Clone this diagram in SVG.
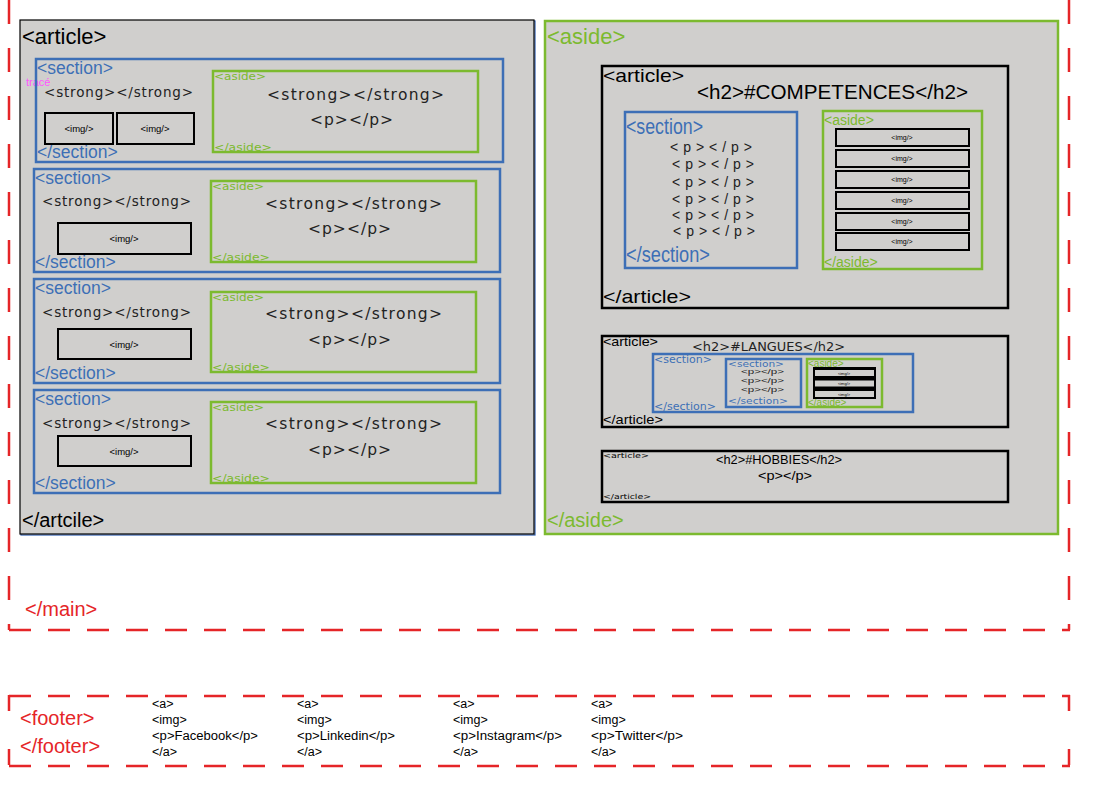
<svg xmlns="http://www.w3.org/2000/svg" width="1104" height="789" viewBox="0 0 1104 789">
<style>
text{font-family:"Liberation Sans",Arial,sans-serif;}
.w{font-family:"DejaVu Sans",sans-serif;}
.box{fill:#d0cfcd;}
.blue{fill:none;stroke:#3d6fb6;stroke-width:2.5;}
.green{fill:none;stroke:#7cba2f;stroke-width:2.5;}
.blk{fill:#d0cfcd;stroke:#000;stroke-width:2.5;}
.img{fill:#d0cfcd;stroke:#000;stroke-width:2;}
.tb{fill:#3d6fb6;}
.tg{fill:#7cba2f;}
.tk{fill:#000;}
.tr{fill:#e52528;}
.st{font-family:"DejaVu Sans",sans-serif;fill:#222;}
.sm{fill:#000;text-anchor:middle;}
.dashv{stroke:#e52528;stroke-width:2.5;fill:none;stroke-dasharray:24 24;}
.dashh{stroke:#e52528;stroke-width:2.5;fill:none;stroke-dasharray:22 17;}
.ft{fill:#000;}
</style>

<g id="main">
<line class="dashv" x1="9" y1="0" x2="9" y2="630"/>
<line class="dashv" x1="1069" y1="0" x2="1069" y2="630"/>
<line class="dashh" x1="9" y1="630" x2="1070" y2="630"/>
<text x="25" y="616" class="tr" font-size="20">&lt;/main&gt;</text>
</g>

<g id="article-left">
<rect x="21" y="21" width="514" height="514" fill="none" stroke="#2f5fb3" stroke-width="1.2"/>
<rect x="20" y="20" width="514" height="514" class="box" stroke="#000" stroke-width="1.2"/>
<text x="22" y="44" class="tk" font-size="22">&lt;article&gt;</text>
<text x="22" y="527" class="tk" font-size="20">&lt;/artcile&gt;</text>
<text x="26" y="86" fill="#ff55ff" font-size="11">tracé</text>
</g>

<g id="section1">
<rect x="36" y="59" width="467" height="103" class="blue"/>
<text x="37" y="74" class="tb" font-size="17.5">&lt;section&gt;</text>
<text x="37" y="158" class="tb" font-size="17.5">&lt;/section&gt;</text>
<text x="44" y="97" class="st" font-size="13.5" textLength="149" lengthAdjust="spacing">&lt;strong&gt;&lt;/strong&gt;</text>
<rect x="45" y="113" width="68" height="31" class="img"/>
<text x="79" y="132" class="sm" font-size="9.5">&lt;img/&gt;</text>
<rect x="117" y="113" width="77" height="31" class="img"/>
<text x="155" y="132" class="sm" font-size="9.5">&lt;img/&gt;</text>
<rect x="213" y="71" width="265" height="81" class="green"/>
<text x="214" y="80" class="tg w" font-size="10.5" textLength="52" lengthAdjust="spacingAndGlyphs">&lt;aside&gt;</text>
<text x="214" y="151" class="tg w" font-size="10.5" textLength="58" lengthAdjust="spacingAndGlyphs">&lt;/aside&gt;</text>
<text x="267" y="100" class="st" font-size="15.5" textLength="177" lengthAdjust="spacing">&lt;strong&gt;&lt;/strong&gt;</text>
<text x="310" y="125" class="st" font-size="15.5" textLength="83" lengthAdjust="spacing">&lt;p&gt;&lt;/p&gt;</text>
</g>

<g id="section2">
<rect x="34" y="169" width="466" height="103" class="blue"/>
<text x="35" y="184" class="tb" font-size="17.5">&lt;section&gt;</text>
<text x="35" y="268" class="tb" font-size="17.5">&lt;/section&gt;</text>
<text x="42" y="206" class="st" font-size="13.5" textLength="149" lengthAdjust="spacing">&lt;strong&gt;&lt;/strong&gt;</text>
<rect x="58" y="223" width="133" height="31" class="img"/>
<text x="124" y="242" class="sm" font-size="9.5">&lt;img/&gt;</text>
<rect x="211" y="181" width="265" height="81" class="green"/>
<text x="212" y="190" class="tg w" font-size="10.5" textLength="52" lengthAdjust="spacingAndGlyphs">&lt;aside&gt;</text>
<text x="212" y="261" class="tg w" font-size="10.5" textLength="58" lengthAdjust="spacingAndGlyphs">&lt;/aside&gt;</text>
<text x="265" y="209" class="st" font-size="15.5" textLength="177" lengthAdjust="spacing">&lt;strong&gt;&lt;/strong&gt;</text>
<text x="308" y="234" class="st" font-size="15.5" textLength="83" lengthAdjust="spacing">&lt;p&gt;&lt;/p&gt;</text>
</g>

<g id="section3">
<rect x="34" y="279" width="466" height="104" class="blue"/>
<text x="35" y="294" class="tb" font-size="17.5">&lt;section&gt;</text>
<text x="35" y="379" class="tb" font-size="17.5">&lt;/section&gt;</text>
<text x="42" y="317" class="st" font-size="13.5" textLength="149" lengthAdjust="spacing">&lt;strong&gt;&lt;/strong&gt;</text>
<rect x="58" y="329" width="133" height="30" class="img"/>
<text x="124" y="348" class="sm" font-size="9.5">&lt;img/&gt;</text>
<rect x="211" y="292" width="265" height="80" class="green"/>
<text x="212" y="301" class="tg w" font-size="10.5" textLength="52" lengthAdjust="spacingAndGlyphs">&lt;aside&gt;</text>
<text x="212" y="371" class="tg w" font-size="10.5" textLength="58" lengthAdjust="spacingAndGlyphs">&lt;/aside&gt;</text>
<text x="265" y="319" class="st" font-size="15.5" textLength="177" lengthAdjust="spacing">&lt;strong&gt;&lt;/strong&gt;</text>
<text x="308" y="345" class="st" font-size="15.5" textLength="83" lengthAdjust="spacing">&lt;p&gt;&lt;/p&gt;</text>
</g>

<g id="section4">
<rect x="34" y="390" width="466" height="103" class="blue"/>
<text x="35" y="405" class="tb" font-size="17.5">&lt;section&gt;</text>
<text x="35" y="489" class="tb" font-size="17.5">&lt;/section&gt;</text>
<text x="42" y="428" class="st" font-size="13.5" textLength="149" lengthAdjust="spacing">&lt;strong&gt;&lt;/strong&gt;</text>
<rect x="58" y="436" width="133" height="30" class="img"/>
<text x="124" y="455" class="sm" font-size="9.5">&lt;img/&gt;</text>
<rect x="211" y="402" width="265" height="81" class="green"/>
<text x="212" y="411" class="tg w" font-size="10.5" textLength="52" lengthAdjust="spacingAndGlyphs">&lt;aside&gt;</text>
<text x="212" y="482" class="tg w" font-size="10.5" textLength="58" lengthAdjust="spacingAndGlyphs">&lt;/aside&gt;</text>
<text x="265" y="429" class="st" font-size="15.5" textLength="177" lengthAdjust="spacing">&lt;strong&gt;&lt;/strong&gt;</text>
<text x="308" y="455" class="st" font-size="15.5" textLength="83" lengthAdjust="spacing">&lt;p&gt;&lt;/p&gt;</text>
</g>

<g id="aside-right">
<rect x="545" y="21" width="513" height="513" class="box" stroke="#7cba2f" stroke-width="2.5"/>
<text x="547" y="44" class="tg" font-size="22">&lt;aside&gt;</text>
<text x="547" y="527" class="tg" font-size="20">&lt;/aside&gt;</text>
</g>

<g id="article-competences">
<rect x="602" y="66" width="406" height="242" class="blk"/>
<text x="603" y="82" class="tk" font-size="19" textLength="81" lengthAdjust="spacingAndGlyphs">&lt;article&gt;</text>
<text x="603" y="303" class="tk" font-size="19" textLength="88" lengthAdjust="spacingAndGlyphs">&lt;/article&gt;</text>
<text x="697" y="99" class="tk" font-size="21" textLength="271" lengthAdjust="spacingAndGlyphs">&lt;h2&gt;#COMPETENCES&lt;/h2&gt;</text>
<rect x="625" y="112" width="172" height="156" class="blue"/>
<text x="626" y="134" class="tb" font-size="22" textLength="77" lengthAdjust="spacingAndGlyphs">&lt;section&gt;</text>
<text x="626" y="262" class="tb" font-size="22" textLength="84" lengthAdjust="spacingAndGlyphs">&lt;/section&gt;</text>
<g class="st" font-size="14">
<text x="670" y="152" textLength="82" lengthAdjust="spacing">&lt;p&gt;&lt;/p&gt;</text>
<text x="672" y="169" textLength="82" lengthAdjust="spacing">&lt;p&gt;&lt;/p&gt;</text>
<text x="672" y="187" textLength="82" lengthAdjust="spacing">&lt;p&gt;&lt;/p&gt;</text>
<text x="672" y="204" textLength="82" lengthAdjust="spacing">&lt;p&gt;&lt;/p&gt;</text>
<text x="672" y="220" textLength="82" lengthAdjust="spacing">&lt;p&gt;&lt;/p&gt;</text>
<text x="673" y="236" textLength="82" lengthAdjust="spacing">&lt;p&gt;&lt;/p&gt;</text>
</g>
<rect x="823" y="111" width="159" height="158" class="green"/>
<text x="824" y="125" class="tg" font-size="14">&lt;aside&gt;</text>
<text x="824" y="267" class="tg" font-size="14">&lt;/aside&gt;</text>
<g>
<rect x="836" y="129" width="133" height="17" class="img"/>
<rect x="836" y="150" width="133" height="17" class="img"/>
<rect x="836" y="171" width="133" height="17" class="img"/>
<rect x="836" y="192" width="133" height="17" class="img"/>
<rect x="836" y="213" width="133" height="17" class="img"/>
<rect x="836" y="233" width="133" height="17" class="img"/>
</g>
<g class="sm" font-size="7">
<text x="902" y="140">&lt;img/&gt;</text>
<text x="902" y="161">&lt;img/&gt;</text>
<text x="902" y="182">&lt;img/&gt;</text>
<text x="902" y="203">&lt;img/&gt;</text>
<text x="902" y="224">&lt;img/&gt;</text>
<text x="902" y="244">&lt;img/&gt;</text>
</g>
</g>

<g id="article-langues">
<rect x="602" y="336" width="406" height="91" class="blk"/>
<text x="603" y="346" class="tk" font-size="13" textLength="55" lengthAdjust="spacingAndGlyphs">&lt;article&gt;</text>
<text x="603" y="424" class="tk" font-size="13" textLength="60" lengthAdjust="spacingAndGlyphs">&lt;/article&gt;</text>
<text x="692" y="351" class="st" font-size="12" textLength="153" lengthAdjust="spacingAndGlyphs">&lt;h2&gt;#LANGUES&lt;/h2&gt;</text>
<rect x="653" y="354" width="260" height="58" class="blue" stroke-width="2"/>
<text x="654" y="363" class="tb w" font-size="10" textLength="58" lengthAdjust="spacingAndGlyphs">&lt;section&gt;</text>
<text x="654" y="410" class="tb w" font-size="10" textLength="62" lengthAdjust="spacingAndGlyphs">&lt;/section&gt;</text>
<rect x="726" y="359" width="75" height="48" class="blue" stroke-width="2"/>
<text x="728" y="366.5" class="tb w" font-size="8" textLength="56" lengthAdjust="spacingAndGlyphs">&lt;section&gt;</text>
<text x="728" y="404" class="tb w" font-size="8" textLength="60" lengthAdjust="spacingAndGlyphs">&lt;/section&gt;</text>
<g class="st" font-size="6.5">
<text x="741" y="374" textLength="43" lengthAdjust="spacingAndGlyphs">&lt;p&gt;&lt;/p&gt;</text>
<text x="741" y="383" textLength="43" lengthAdjust="spacingAndGlyphs">&lt;p&gt;&lt;/p&gt;</text>
<text x="741" y="392" textLength="43" lengthAdjust="spacingAndGlyphs">&lt;p&gt;&lt;/p&gt;</text>
</g>
<rect x="807" y="359" width="75" height="48" class="green" stroke-width="2"/>
<text x="808" y="366.5" class="tg" font-size="10">&lt;aside&gt;</text>
<text x="808" y="406" class="tg" font-size="10">&lt;/aside&gt;</text>
<rect x="813" y="367" width="63" height="32" fill="#000"/>
<rect x="815" y="370" width="59" height="6" fill="#d0cfcd"/>
<rect x="815" y="380.5" width="59" height="6" fill="#d0cfcd"/>
<rect x="815" y="391" width="59" height="6" fill="#d0cfcd"/>
<g class="sm" font-size="4">
<text x="844" y="374.5">&lt;img/&gt;</text>
<text x="844" y="385">&lt;img/&gt;</text>
<text x="844" y="395.5">&lt;img/&gt;</text>
</g>
</g>

<g id="article-hobbies">
<rect x="602" y="451" width="406" height="51" class="blk"/>
<text x="603" y="457.5" class="tk w" font-size="7" textLength="46" lengthAdjust="spacingAndGlyphs">&lt;article&gt;</text>
<text x="603" y="499" class="tk w" font-size="7" textLength="48" lengthAdjust="spacingAndGlyphs">&lt;/article&gt;</text>
<text x="716" y="464" class="tk" font-size="12.5" textLength="126" lengthAdjust="spacingAndGlyphs">&lt;h2&gt;#HOBBIES&lt;/h2&gt;</text>
<text x="758" y="480" class="tk" font-size="12.5" textLength="54" lengthAdjust="spacingAndGlyphs">&lt;p&gt;&lt;/p&gt;</text>
</g>

<g id="footer">
<line class="dashh" x1="9" y1="696" x2="1070" y2="696"/>
<line class="dashh" x1="9" y1="766" x2="1070" y2="766"/>
<line stroke="#e52528" stroke-width="2.5" stroke-dasharray="16 38" x1="9" y1="695" x2="9" y2="767"/>
<line stroke="#e52528" stroke-width="2.5" stroke-dasharray="16 38" x1="1069" y1="695" x2="1069" y2="767"/>
<text x="20" y="725" class="tr" font-size="20">&lt;footer&gt;</text>
<text x="20" y="753" class="tr" font-size="20">&lt;/footer&gt;</text>
<g class="ft" font-size="12.5">
<text x="152" y="708">&lt;a&gt;</text><text x="152" y="724">&lt;img&gt;</text><text x="152" y="740" textLength="106" lengthAdjust="spacingAndGlyphs">&lt;p&gt;Facebook&lt;/p&gt;</text><text x="152" y="756">&lt;/a&gt;</text>
<text x="297" y="708">&lt;a&gt;</text><text x="297" y="724">&lt;img&gt;</text><text x="297" y="740" textLength="98" lengthAdjust="spacingAndGlyphs">&lt;p&gt;Linkedin&lt;/p&gt;</text><text x="297" y="756">&lt;/a&gt;</text>
<text x="453" y="708">&lt;a&gt;</text><text x="453" y="724">&lt;img&gt;</text><text x="453" y="740" textLength="109" lengthAdjust="spacingAndGlyphs">&lt;p&gt;Instagram&lt;/p&gt;</text><text x="453" y="756">&lt;/a&gt;</text>
<text x="591" y="708">&lt;a&gt;</text><text x="591" y="724">&lt;img&gt;</text><text x="591" y="740" textLength="92" lengthAdjust="spacingAndGlyphs">&lt;p&gt;Twitter&lt;/p&gt;</text><text x="591" y="756">&lt;/a&gt;</text>
</g>
</g>
</svg>
